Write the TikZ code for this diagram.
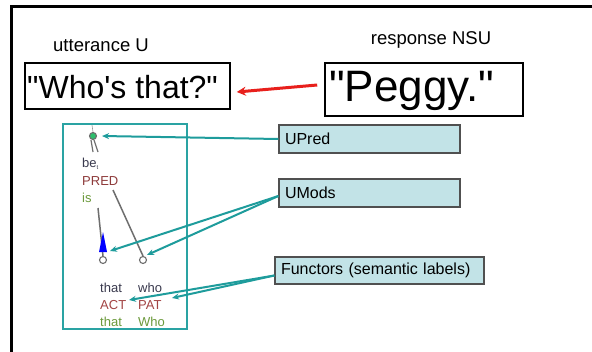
\documentclass[tikz,border=0pt]{standalone}
\usepackage{fontspec}
\setmainfont{Liberation Sans}[Ligatures=TeXOff]
\usetikzlibrary{arrows.meta}
\definecolor{tealline}{HTML}{2AA3A3}
\definecolor{tealarrow}{HTML}{1E9C9C}
\definecolor{labelfill}{HTML}{C2E3E7}
\definecolor{labeldraw}{HTML}{505050}
\definecolor{predred}{HTML}{8E3B3B}
\definecolor{funcred}{HTML}{A34444}
\definecolor{formgreen}{HTML}{6C9A3C}
\definecolor{lemmagray}{HTML}{3A3A4E}
\definecolor{edgegray}{HTML}{6E6E6E}
\definecolor{nsured}{HTML}{E8201C}
\definecolor{rootgreen}{HTML}{2DBE6C}
\begin{document}
\begin{tikzpicture}[x=1pt,y=-1pt,
  hdr/.style={font=\fontsize{18.5}{20}\selectfont, inner sep=0pt},
  utterbox/.style={draw=black, line width=1.6pt, inner sep=0pt},
  uttertext/.style={inner sep=0pt, anchor=west},
  labelbox/.style={draw=labeldraw, fill=labelfill, line width=1.2pt,
    minimum height=28pt, text width=#1, inner sep=0pt, inner xsep=6pt,
    font=\fontsize{16}{18}\selectfont, align=left},
  treetxt/.style={font=\fontsize{13}{15}\selectfont, inner sep=0pt, anchor=west},
  tnode/.style={circle, draw=edgegray, fill=white, line width=1.1pt, minimum size=7pt, inner sep=0pt},
  treeedge/.style={draw=edgegray, line width=1.5pt},
  pointer/.style={draw=tealarrow, line width=2pt, -{Stealth[length=7pt,width=6pt]}},
]
\useasboundingbox (0,0) rectangle (592,351);
\fill[white] (0,0) rectangle (592,351);
% slide frame (runs off the right and bottom edges)
\draw[line width=2.5pt] (11.5,360) -- (11.5,6.5) -- (600,6.5);

% headings and the two utterances
\node[hdr] (hu) at (101,45) {utterance U};
\node[hdr] (hn) at (431,40) {response NSU};
\node[utterbox, minimum width=205pt, minimum height=46pt] (who) at (127.5,86) {};
\node[uttertext, font=\fontsize{32}{34}\selectfont] (whotxt) at (27,87) {"Who's that?"};
\node[utterbox, minimum width=198pt, minimum height=53pt] (peggy) at (424,89.5) {};
\node[uttertext, font=\fontsize{44}{46}\selectfont] (peggytxt) at (329,91) {"Peggy."};
\draw[draw=nsured, line width=3pt, -{Stealth[length=9pt,width=9pt]}]
  ([shift={(-7,-4.5)}]peggy.west) -- ([shift={(6,6)}]who.east);

% dependency tree panel
\draw[draw=tealline, line width=2pt] (63,124) rectangle (187,329);
\node[tnode, fill=rootgreen] (g) at (93,136) {};
\draw[draw=edgegray!70, line width=0.6pt] (92,125) -- (g.north);
\draw[treeedge, line width=1.2pt] (91,140) -- (93,152);
\draw[treeedge, line width=1.2pt] (94,140) -- (98,152);
\node[treetxt, text=lemmagray] (be) at (82,164) {be\raisebox{-2.5pt}{\fontsize{6}{6}\selectfont t}};
\node[treetxt, text=predred] (pred) at (82,181) {PRED};
\node[treetxt, text=formgreen] (is) at (82,198) {is};
\node[tnode] (c1) at (103,260) {};
\node[tnode] (c2) at (143,260) {};
\draw[treeedge] (113,190) -- (c2.north);
\draw[treeedge] (98,208) -- (c1.north);
\fill[blue] (103,232) -- (107,252) -- (99,252) -- cycle;

\node[treetxt, text=lemmagray] (t1) at (100,288) {that};
\node[treetxt, text=lemmagray] (t2) at (138,288) {who};
\node[treetxt, text=funcred] (act) at (100,305) {ACT};
\node[treetxt, text=funcred] (pat) at (138,305) {PAT};
\node[treetxt, text=formgreen] (f1) at (100,322) {that};
\node[treetxt, text=formgreen] (f2) at (138,322) {Who};

% label boxes
\node[labelbox=169pt] (upred) at (369.5,139) {UPred};
\node[labelbox=169pt] (umods) at (369.5,193) {UMods};
\node[labelbox=197pt, minimum height=27pt] (func) at (379.5,270.5) {Functors (semantic labels)};

% pointers from labels into the tree
\coordinate (m1) at (110,251);
\coordinate (m2) at (147,255);
\coordinate (a1) at (129,300);
\coordinate (a2) at (172,298);
\draw[pointer] (upred.west) -- ([xshift=5pt]g.east);
\draw[pointer] ([yshift=-3pt]umods.west) -- (m1);
\draw[pointer] ([yshift=-3pt]umods.west) -- (m2);
\draw[pointer] ([yshift=-5pt]func.west) -- (a1);
\draw[pointer] ([yshift=-5pt]func.west) -- (a2);
\end{tikzpicture}
\end{document}
